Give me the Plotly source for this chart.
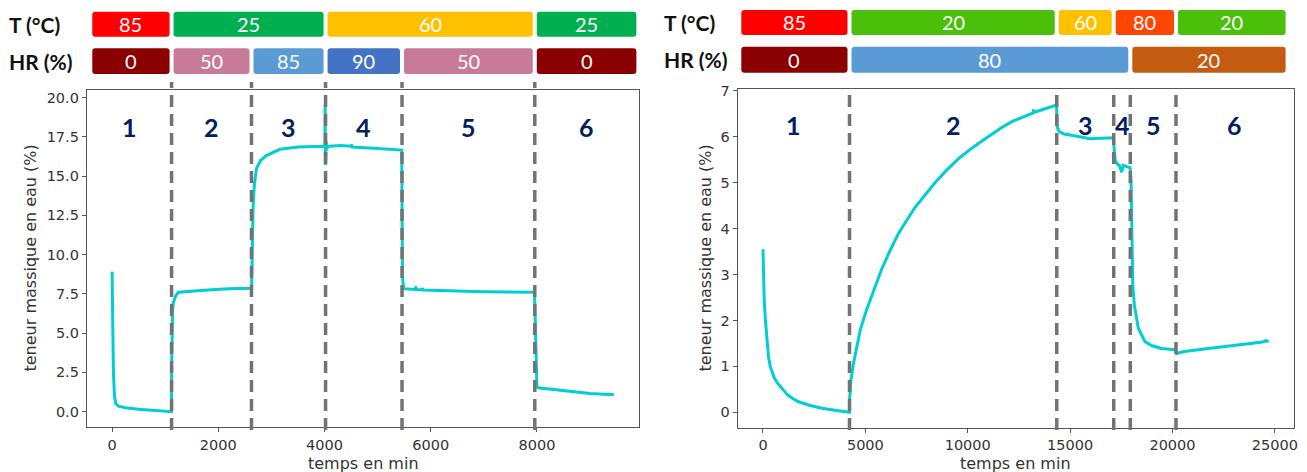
import plotly.graph_objects as go

W, H = 1307, 472

# ---------------- data: left experiment ----------------
left_time = [0, 10, 25, 45, 70, 120, 250, 500, 800, 1118,
             1122, 1128, 1140, 1150, 1200, 1250, 1400, 1800, 2200, 2620,
             2628, 2640, 2655, 2680, 2720, 2800, 2905, 3160, 3500, 3800, 4000,
             4008, 4012, 4016, 4020, 4024, 4030, 4040, 4060, 4100, 4300, 4500, 4510, 4520, 5000, 5455,
             5462, 5470, 5490, 5510, 5700, 5720, 5740, 5830, 5845, 5860, 6500, 7000, 7955,
             7965, 7980, 8000, 8020, 8200, 8500, 9000, 9450]
left_water = [8.9, 5.0, 2.5, 1.0, 0.5, 0.35, 0.25, 0.15, 0.07, 0.0,
              3.0, 5.6, 6.5, 6.9, 7.4, 7.6, 7.65, 7.75, 7.82, 7.85,
              7.9, 10.0, 13.0, 14.5, 15.5, 16.0, 16.3, 16.7, 16.85, 16.88, 16.9,
              16.9, 19.5, 15.7, 18.3, 16.0, 17.2, 16.7, 16.85, 16.9, 16.95, 16.9, 17.0, 16.85, 16.75, 16.65,
              12.0, 8.5, 7.85, 7.82, 7.78, 7.88, 7.77, 7.76, 7.85, 7.75, 7.68, 7.63, 7.6,
              6.0, 3.0, 1.6, 1.52, 1.45, 1.3, 1.15, 1.08]
left_bounds = [1120, 2625, 4020, 5460, 7960]
left_T_labels = ["85", "25", "60", "25"]
left_T_spans = [1, 2, 2, 1]
left_T_colors = ["#FF0000", "#00B050", "#FFC000", "#00B050"]
left_HR_labels = ["0", "50", "85", "90", "50", "0"]
left_HR_spans = [1, 1, 1, 1, 1, 1]
left_HR_colors = ["#8B0000", "#C87B98", "#5B9BD5", "#4472C4", "#C87B98", "#8B0000"]

# ---------------- data: right experiment ----------------
right_time = [0, 10, 30, 60, 112, 200, 270, 356, 450, 550, 700, 844, 1000, 1200, 1450, 1737,
              2300, 2880, 3600, 4220,
              4232, 4245, 4261, 4300, 4422, 4560, 4749, 5050, 5398, 5780, 6213, 6600, 7028, 7420,
              7838, 8400, 8980, 9620, 10279, 10900, 11581, 12200, 12884,
              13200, 13215, 13230, 13700, 14340,
              14352, 14370, 14450, 14700, 15000, 15975, 16500, 17120,
              17150, 17200, 17276, 17400, 17520, 17600, 17764, 17930,
              17975, 18009, 18060, 18136, 18331, 18658, 19000, 19473, 20160,
              20200, 20284, 20500, 21748, 23377, 24400, 24550, 24700]
right_water = [3.55, 3.2, 2.9, 2.45, 2.05, 1.5, 1.2, 1.0, 0.86, 0.75, 0.64, 0.56, 0.47, 0.38, 0.3, 0.23,
               0.15, 0.09, 0.04, 0.0,
               0.3, 0.45, 0.56, 0.72, 1.07, 1.4, 1.79, 2.22, 2.66, 3.1, 3.53, 3.88, 4.19, 4.46,
               4.69, 5.0, 5.28, 5.55, 5.78, 5.98, 6.18, 6.34, 6.47,
               6.52, 6.6, 6.53, 6.6, 6.69,
               6.45, 6.22, 6.12, 6.06, 6.04, 5.96, 5.97, 5.98,
               5.75, 5.5, 5.42, 5.38, 5.23, 5.38, 5.35, 5.33,
               5.05, 3.5, 2.8, 2.34, 1.83, 1.54, 1.45, 1.39, 1.36,
               1.28, 1.29, 1.32, 1.39, 1.48, 1.53, 1.56, 1.54]
right_bounds = [4226, 14348, 17130, 17940, 20171]
right_T_labels = ["85", "20", "60", "80", "20"]
right_T_spans = [1, 1, 1, 2, 1]
right_T_colors = ["#FF0000", "#4BBF0A", "#FFC000", "#FF4500", "#4BBF0A"]
right_HR_labels = ["0", "80", "20"]
right_HR_spans = [1, 3, 2]
right_HR_colors = ["#8B0000", "#5B9BD5", "#C55A11"]

phase_names = ["1", "2", "3", "4", "5", "6"]

# ---------------- layout geometry ----------------
def px_x(p):
    return p / W

def px_y(p):
    return 1 - p / H

panels = [
    dict(xa="x", ya="y", xdom=[px_x(87), px_x(639)], ydom=[px_y(427), px_y(90)],
         xrange=[-472.5, 9922.5], yrange=[-0.975, 20.475],
         xticks=[0, 2000, 4000, 6000, 8000],
         yticks=[0, 2.5, 5, 7.5, 10, 12.5, 15, 17.5, 20], yfmt=".1f",
         t=left_time, w=left_water, bounds=left_bounds,
         head_ext=(-373, 9873),
         T=(left_T_labels, left_T_spans, left_T_colors),
         HR=(left_HR_labels, left_HR_spans, left_HR_colors),
         rowT=(11.7, 36.7), rowHR=(48.3, 74.0), line_top=82, label_x=7, ytitle_x=30,
         phase_y=127),
    dict(xa="x2", ya="y2", xdom=[px_x(737.7), px_x(1294)], ydom=[px_y(427.7), px_y(89.3)],
         xrange=[-1235, 25935], yrange=[-0.335, 7.035],
         xticks=[0, 5000, 10000, 15000, 20000, 25000],
         yticks=[0, 1, 2, 3, 4, 5, 6, 7], yfmt="d",
         t=right_time, w=right_water, bounds=right_bounds,
         head_ext=(-1059, 25525),
         T=(right_T_labels, right_T_spans, right_T_colors),
         HR=(right_HR_labels, right_HR_spans, right_HR_colors),
         rowT=(10.0, 35.0), rowHR=(46.7, 72.7), line_top=89.5, label_x=662, ytitle_x=705,
         phase_y=125),
]

fig = go.Figure()
shapes = []
annotations = []

CYAN = "#00CED1"
DASH = "#737373"
TICK_FONT = dict(family="DejaVu Sans", size=14.5, color="#333333")
TITLE_FONT = dict(family="DejaVu Sans", size=16, color="#333333")


def rounded_path(x0, x1, y0, y1, rx, ry):
    return (f"M {x0+rx},{y0} L {x1-rx},{y0} Q {x1},{y0} {x1},{y0+ry} "
            f"L {x1},{y1-ry} Q {x1},{y1} {x1-rx},{y1} L {x0+rx},{y1} "
            f"Q {x0},{y1} {x0},{y1-ry} L {x0},{y0+ry} Q {x0},{y0} {x0+rx},{y0} Z")


for i, p in enumerate(panels):
    sfx = "" if i == 0 else "2"
    fig.add_trace(go.Scatter(x=p["t"], y=p["w"], mode="lines",
                             line=dict(color=CYAN, width=3),
                             xaxis=p["xa"], yaxis=p["ya"], showlegend=False,
                             hoverinfo="skip"))
    axis_common = dict(showline=True, mirror=True, linecolor="#555555", linewidth=1.3,
                       ticks="outside", ticklen=4, tickwidth=1.2, tickcolor="#555555",
                       showgrid=False, zeroline=False, tickfont=TICK_FONT,
                       automargin=False, fixedrange=True)
    fig.update_layout(**{
        "xaxis" + sfx: dict(domain=p["xdom"], range=p["xrange"], tickvals=p["xticks"],
                            tickformat="d", anchor="y" + sfx, **axis_common),
        "yaxis" + sfx: dict(domain=p["ydom"], range=p["yrange"], tickvals=p["yticks"],
                            tickformat=p["yfmt"], anchor="x" + sfx, **axis_common),
    })

    # px per data unit on x
    x0r, x1r = p["xrange"]
    dom_px = (p["xdom"][1] - p["xdom"][0]) * W
    ppu = dom_px / (x1r - x0r)
    half_gap = 2.0 / ppu
    rx = 3.0 / ppu
    ry = 3.0 / H

    # dashed phase boundaries
    for b in p["bounds"]:
        shapes.append(dict(type="line", xref=p["xa"], yref="paper", x0=b, x1=b,
                           y0=px_y(430), y1=px_y(p["line_top"]),
                           line=dict(color=DASH, width=3.5, dash="12px,7px"), layer="above"))

    # phase numbers
    edges = [x0r] + p["bounds"] + [x1r]
    for k, name in enumerate(phase_names):
        annotations.append(dict(x=(edges[k] + edges[k + 1]) / 2, xref=p["xa"],
                                y=px_y(p["phase_y"]), yref="paper", text=f"<b>{name}</b>",
                                showarrow=False, xanchor="center", yanchor="middle",
                                font=dict(family="Lato", size=25, color="#002060")))

    # header bars
    hedges = [p["head_ext"][0]] + p["bounds"] + [p["head_ext"][1]]
    for (labels, spans, colors), (ptop, pbot) in ((p["T"], p["rowT"]), (p["HR"], p["rowHR"])):
        idx = 0
        for lab, sp, col in zip(labels, spans, colors):
            a = hedges[idx]
            b = hedges[idx + sp]
            xa0 = a if idx == 0 else a + half_gap
            xb1 = b if idx + sp == len(hedges) - 1 else b - half_gap
            yb, yt = px_y(pbot), px_y(ptop)
            shapes.append(dict(type="path", xref=p["xa"], yref="paper",
                               path=rounded_path(xa0, xb1, yb, yt, rx, ry),
                               fillcolor=col, line=dict(width=0), layer="above"))
            annotations.append(dict(x=(xa0 + xb1) / 2, xref=p["xa"], y=(yb + yt) / 2, yref="paper",
                                    text=lab, showarrow=False, xanchor="center", yanchor="middle",
                                    font=dict(family="Lato", size=20, color="white")))
            idx += sp
    # row labels
    for txt, (ptop, pbot) in (("T (°C)", p["rowT"]), ("HR (%)", p["rowHR"])):
        annotations.append(dict(x=px_x(p["label_x"]), xref="paper", y=px_y((ptop + pbot) / 2),
                                yref="paper", text=f"<b>{txt}</b>", showarrow=False,
                                xanchor="left", yanchor="middle",
                                font=dict(family="Lato", size=21, color="#111111")))
    # axis titles
    annotations.append(dict(x=(p["xdom"][0] + p["xdom"][1]) / 2, xref="paper", y=px_y(463),
                            yref="paper", text="temps en min", showarrow=False,
                            xanchor="center", yanchor="middle", font=TITLE_FONT))
    annotations.append(dict(x=px_x(p["ytitle_x"]), xref="paper",
                            y=(p["ydom"][0] + p["ydom"][1]) / 2, yref="paper",
                            text="teneur massique en eau (%)", textangle=-90, showarrow=False,
                            xanchor="center", yanchor="middle", font=TITLE_FONT))

fig.update_layout(width=W, height=H, margin=dict(l=0, r=0, t=0, b=0),
                  paper_bgcolor="white", plot_bgcolor="white",
                  shapes=shapes, annotations=annotations, showlegend=False,
                  template="none")

fig.write_html("out.html", config={"displayModeBar": False},
               post_script="document.body.style.margin='0';document.body.style.overflow='hidden';")
